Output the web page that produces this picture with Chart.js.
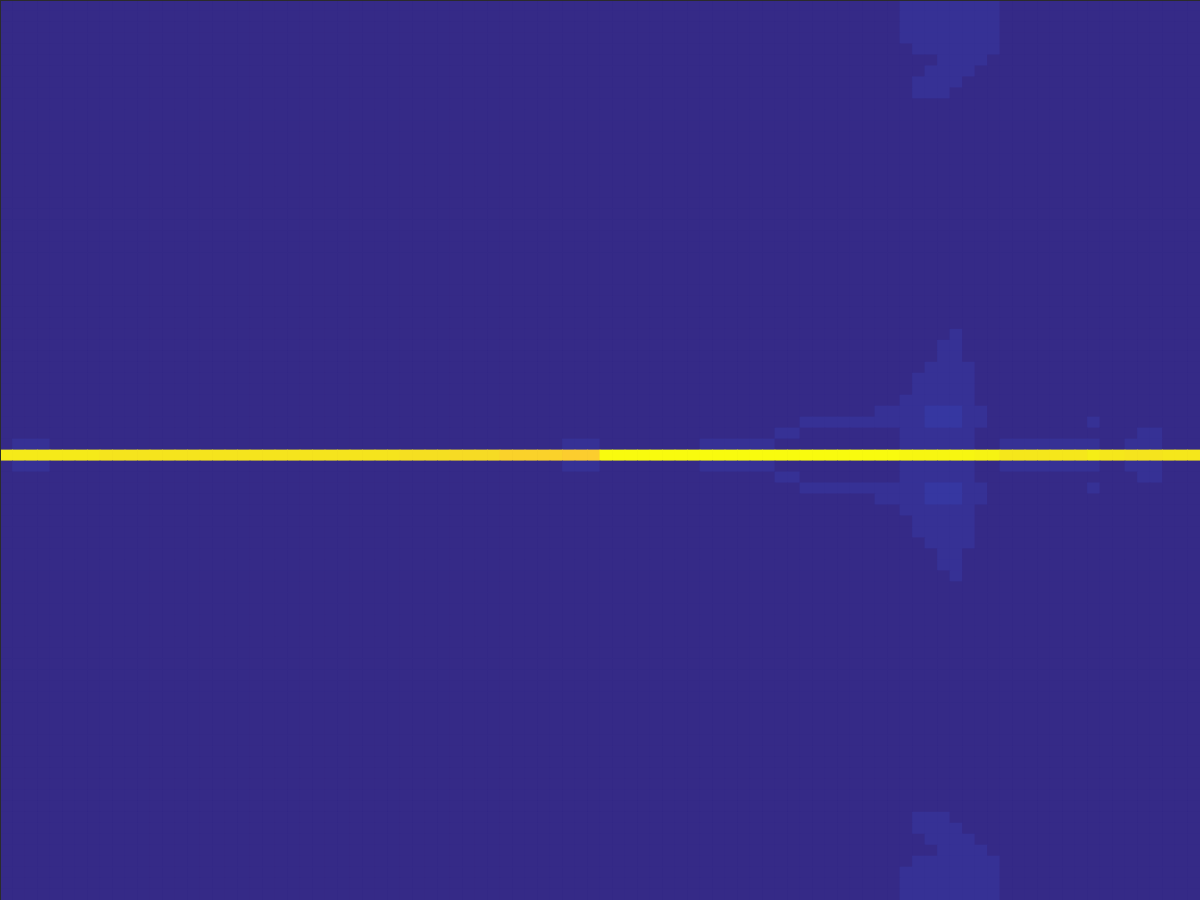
<!DOCTYPE html>
<html>
<head>
<meta charset="utf-8">
<script src="https://cdn.jsdelivr.net/npm/chart.js@4.4.0/dist/chart.umd.min.js"></script>
<style>
html,body{margin:0;padding:0;background:#352a87;overflow:hidden}
#wrap{width:1200px;height:900px;position:relative}
</style>
</head>
<body>
<div id="wrap"><canvas id="c" width="1200" height="900"></canvas></div>
<script>
// ---- DATA ----
// column categories (96 columns)
const columnLabels = [
  0,1,2,3,4,5,6,7,8,9,10,11,12,13,14,15,16,17,18,19,20,21,22,23,
  24,25,26,27,28,29,30,31,32,33,34,35,36,37,38,39,40,41,42,43,44,45,46,47,
  48,49,50,51,52,53,54,55,56,57,58,59,60,61,62,63,64,65,66,67,68,69,70,71,
  72,73,74,75,76,77,78,79,80,81,82,83,84,85,86,87,88,89,90,91,92,93,94,95
];
// value levels: each character in the grid stands for one value (0..1 of the colour scale)
const levelCodes  = ['.',  'a',   'b',   'p',   'o',   'v',   'w',   'x',   'u',  'y',   't',   'z',   'Z',  'Y'];
const levelValues = [0.0, 0.018, 0.033, 0.888, 0.902, 0.928, 0.938, 0.951, 0.96, 0.966, 0.975, 0.985, 0.99, 1.0];
// 82 rows (top to bottom) x 96 columns, written in groups of 8 columns
const gridRows = [
"........ ........ ........ ........ ........ ........ ........ ........ ........ aaaaaaaa ........ ........",
"........ ........ ........ ........ ........ ........ ........ ........ ........ aaaaaaaa ........ ........",
"........ ........ ........ ........ ........ ........ ........ ........ ........ aaaaaaaa ........ ........",
"........ ........ ........ ........ ........ ........ ........ ........ ........ aaaaaaaa ........ ........",
"........ ........ ........ ........ ........ ........ ........ ........ ........ .aaaaaaa ........ ........",
"........ ........ ........ ........ ........ ........ ........ ........ ........ ...aaaa. ........ ........",
"........ ........ ........ ........ ........ ........ ........ ........ ........ ..aaaa.. ........ ........",
"........ ........ ........ ........ ........ ........ ........ ........ ........ .aaaa... ........ ........",
"........ ........ ........ ........ ........ ........ ........ ........ ........ .aaa.... ........ ........",
"........ ........ ........ ........ ........ ........ ........ ........ ........ ........ ........ ........",
"........ ........ ........ ........ ........ ........ ........ ........ ........ ........ ........ ........",
"........ ........ ........ ........ ........ ........ ........ ........ ........ ........ ........ ........",
"........ ........ ........ ........ ........ ........ ........ ........ ........ ........ ........ ........",
"........ ........ ........ ........ ........ ........ ........ ........ ........ ........ ........ ........",
"........ ........ ........ ........ ........ ........ ........ ........ ........ ........ ........ ........",
"........ ........ ........ ........ ........ ........ ........ ........ ........ ........ ........ ........",
"........ ........ ........ ........ ........ ........ ........ ........ ........ ........ ........ ........",
"........ ........ ........ ........ ........ ........ ........ ........ ........ ........ ........ ........",
"........ ........ ........ ........ ........ ........ ........ ........ ........ ........ ........ ........",
"........ ........ ........ ........ ........ ........ ........ ........ ........ ........ ........ ........",
"........ ........ ........ ........ ........ ........ ........ ........ ........ ........ ........ ........",
"........ ........ ........ ........ ........ ........ ........ ........ ........ ........ ........ ........",
"........ ........ ........ ........ ........ ........ ........ ........ ........ ........ ........ ........",
"........ ........ ........ ........ ........ ........ ........ ........ ........ ........ ........ ........",
"........ ........ ........ ........ ........ ........ ........ ........ ........ ........ ........ ........",
"........ ........ ........ ........ ........ ........ ........ ........ ........ ........ ........ ........",
"........ ........ ........ ........ ........ ........ ........ ........ ........ ........ ........ ........",
"........ ........ ........ ........ ........ ........ ........ ........ ........ ........ ........ ........",
"........ ........ ........ ........ ........ ........ ........ ........ ........ ........ ........ ........",
"........ ........ ........ ........ ........ ........ ........ ........ ........ ........ ........ ........",
"........ ........ ........ ........ ........ ........ ........ ........ ........ ....a... ........ ........",
"........ ........ ........ ........ ........ ........ ........ ........ ........ ...aa... ........ ........",
"........ ........ ........ ........ ........ ........ ........ ........ ........ ...aa... ........ ........",
"........ ........ ........ ........ ........ ........ ........ ........ ........ ..aaaa.. ........ ........",
"........ ........ ........ ........ ........ ........ ........ ........ ........ .aaaaa.. ........ ........",
"........ ........ ........ ........ ........ ........ ........ ........ ........ .aaaaa.. ........ ........",
"........ ........ ........ ........ ........ ........ ........ ........ ........ aaaaaa.. ........ ........",
"........ ........ ........ ........ ........ ........ ........ ........ ......aa aabbbaa. ........ ........",
"........ ........ ........ ........ ........ ........ ........ ........ aaaaaaaa aabbbaa. .......a ........",
"........ ........ ........ ........ ........ ........ ........ ......aa ........ aaaaaa.. ........ ...aa...",
".aaa.... ........ ........ ........ ........ .....aaa ........ aaaaaa.. ........ aaaaaa.. aaaaaaaa ..aaa...",
"yyyyyyyy xxxxxxxx xxxxxxxx xxxxxxxx wwwwvvvv oooooppp YYYYYYYY YYYYYYYY YYYYYYYY ZZZZZZzz uuuuuuut uuxxxuuu",
".aaa.... ........ ........ ........ ........ .....aaa ........ aaaaaa.. ........ aaaaaa.. aaaaaaaa ..aaa...",
"........ ........ ........ ........ ........ ........ ........ ......aa ........ aaaaaa.. ........ ...aa...",
"........ ........ ........ ........ ........ ........ ........ ........ aaaaaaaa aabbbaa. .......a ........",
"........ ........ ........ ........ ........ ........ ........ ........ ......aa aabbbaa. ........ ........",
"........ ........ ........ ........ ........ ........ ........ ........ ........ aaaaaa.. ........ ........",
"........ ........ ........ ........ ........ ........ ........ ........ ........ .aaaaa.. ........ ........",
"........ ........ ........ ........ ........ ........ ........ ........ ........ .aaaaa.. ........ ........",
"........ ........ ........ ........ ........ ........ ........ ........ ........ ..aaaa.. ........ ........",
"........ ........ ........ ........ ........ ........ ........ ........ ........ ...aa... ........ ........",
"........ ........ ........ ........ ........ ........ ........ ........ ........ ...aa... ........ ........",
"........ ........ ........ ........ ........ ........ ........ ........ ........ ....a... ........ ........",
"........ ........ ........ ........ ........ ........ ........ ........ ........ ........ ........ ........",
"........ ........ ........ ........ ........ ........ ........ ........ ........ ........ ........ ........",
"........ ........ ........ ........ ........ ........ ........ ........ ........ ........ ........ ........",
"........ ........ ........ ........ ........ ........ ........ ........ ........ ........ ........ ........",
"........ ........ ........ ........ ........ ........ ........ ........ ........ ........ ........ ........",
"........ ........ ........ ........ ........ ........ ........ ........ ........ ........ ........ ........",
"........ ........ ........ ........ ........ ........ ........ ........ ........ ........ ........ ........",
"........ ........ ........ ........ ........ ........ ........ ........ ........ ........ ........ ........",
"........ ........ ........ ........ ........ ........ ........ ........ ........ ........ ........ ........",
"........ ........ ........ ........ ........ ........ ........ ........ ........ ........ ........ ........",
"........ ........ ........ ........ ........ ........ ........ ........ ........ ........ ........ ........",
"........ ........ ........ ........ ........ ........ ........ ........ ........ ........ ........ ........",
"........ ........ ........ ........ ........ ........ ........ ........ ........ ........ ........ ........",
"........ ........ ........ ........ ........ ........ ........ ........ ........ ........ ........ ........",
"........ ........ ........ ........ ........ ........ ........ ........ ........ ........ ........ ........",
"........ ........ ........ ........ ........ ........ ........ ........ ........ ........ ........ ........",
"........ ........ ........ ........ ........ ........ ........ ........ ........ ........ ........ ........",
"........ ........ ........ ........ ........ ........ ........ ........ ........ ........ ........ ........",
"........ ........ ........ ........ ........ ........ ........ ........ ........ ........ ........ ........",
"........ ........ ........ ........ ........ ........ ........ ........ ........ ........ ........ ........",
"........ ........ ........ ........ ........ ........ ........ ........ ........ ........ ........ ........",
"........ ........ ........ ........ ........ ........ ........ ........ ........ .aaa.... ........ ........",
"........ ........ ........ ........ ........ ........ ........ ........ ........ .aaaa... ........ ........",
"........ ........ ........ ........ ........ ........ ........ ........ ........ ..aaaa.. ........ ........",
"........ ........ ........ ........ ........ ........ ........ ........ ........ ...aaaa. ........ ........",
"........ ........ ........ ........ ........ ........ ........ ........ ........ .aaaaaaa ........ ........",
"........ ........ ........ ........ ........ ........ ........ ........ ........ aaaaaaaa ........ ........",
"........ ........ ........ ........ ........ ........ ........ ........ ........ aaaaaaaa ........ ........",
"........ ........ ........ ........ ........ ........ ........ ........ ........ aaaaaaaa ........ ........"
];

// ---- STYLE: parula colour map (64 entries) ----
const parula = [
[0.2081,0.1663,0.5292],[0.2116,0.1898,0.5777],[0.2123,0.2138,0.6270],[0.2081,0.2386,0.6771],
[0.1959,0.2645,0.7279],[0.1707,0.2919,0.7792],[0.1253,0.3242,0.8303],[0.0591,0.3598,0.8683],
[0.0117,0.3875,0.8820],[0.0060,0.4086,0.8828],[0.0165,0.4266,0.8786],[0.0329,0.4430,0.8720],
[0.0498,0.4586,0.8641],[0.0629,0.4737,0.8554],[0.0723,0.4887,0.8467],[0.0779,0.5040,0.8384],
[0.0793,0.5200,0.8312],[0.0749,0.5375,0.8263],[0.0641,0.5570,0.8240],[0.0488,0.5772,0.8228],
[0.0343,0.5966,0.8199],[0.0265,0.6137,0.8135],[0.0239,0.6287,0.8038],[0.0231,0.6418,0.7913],
[0.0228,0.6535,0.7768],[0.0267,0.6642,0.7607],[0.0384,0.6743,0.7436],[0.0590,0.6838,0.7254],
[0.0843,0.6928,0.7062],[0.1133,0.7015,0.6859],[0.1453,0.7098,0.6646],[0.1801,0.7177,0.6424],
[0.2178,0.7250,0.6193],[0.2586,0.7317,0.5954],[0.3022,0.7376,0.5712],[0.3482,0.7424,0.5473],
[0.3953,0.7459,0.5244],[0.4420,0.7481,0.5033],[0.4871,0.7491,0.4840],[0.5300,0.7491,0.4661],
[0.5709,0.7485,0.4494],[0.6099,0.7473,0.4337],[0.6473,0.7456,0.4188],[0.6834,0.7435,0.4044],
[0.7184,0.7411,0.3905],[0.7525,0.7384,0.3768],[0.7858,0.7356,0.3633],[0.8185,0.7327,0.3498],
[0.8507,0.7299,0.3360],[0.8824,0.7274,0.3217],[0.9139,0.7258,0.3063],[0.9450,0.7261,0.2886],
[0.9739,0.7314,0.2666],[0.9938,0.7455,0.2403],[0.9990,0.7653,0.2164],[0.9955,0.7861,0.1967],
[0.9880,0.8066,0.1794],[0.9789,0.8271,0.1633],[0.9697,0.8481,0.1475],[0.9626,0.8705,0.1309],
[0.9589,0.8949,0.1132],[0.9598,0.9218,0.0948],[0.9661,0.9514,0.0755],[0.9763,0.9831,0.0538]
];
function colorFor(v){
  const t = Math.max(0, Math.min(1, v)) * (parula.length - 1);
  const i = Math.min(parula.length - 2, Math.floor(t));
  const f = t - i;
  const a = parula[i], b = parula[i + 1];
  const c = [0,1,2].map(k => Math.round((a[k] + (b[k] - a[k]) * f) * 255));
  return 'rgb(' + c[0] + ',' + c[1] + ',' + c[2] + ')';
}
const codeToValue = {};
levelCodes.forEach((c, i) => { codeToValue[c] = levelValues[i]; });

const nRows = gridRows.length;
const datasets = [];
// bottom row first so that the first grid row ends on top of the stack
for (let r = nRows - 1; r >= 0; r--) {
  const cells = gridRows[r].replace(/ /g, '').split('');
  const vals = cells.map(ch => codeToValue[ch]);
  datasets.push({
    label: 'row ' + r,
    data: vals.map(() => 1),
    cellValues: vals,
    backgroundColor: vals.map(colorFor),
    borderWidth: 0,
    barPercentage: 1.0,
    categoryPercentage: 1.0,
    inflateAmount: 0.4
  });
}

const framePlugin = {
  id: 'frame',
  afterDraw(chart) {
    const ctx = chart.ctx, a = chart.chartArea;
    ctx.save();
    ctx.fillStyle = '#2b2b2b';
    ctx.fillRect(a.left, a.top, a.right - a.left, 1);
    ctx.fillRect(a.left, a.top, 1, a.bottom - a.top);
    ctx.restore();
  }
};

new Chart(document.getElementById('c'), {
  type: 'bar',
  data: { labels: columnLabels, datasets: datasets },
  options: {
    responsive: false,
    devicePixelRatio: 1,
    animation: false,
    layout: { padding: 0 },
    plugins: { legend: { display: false }, tooltip: { enabled: false } },
    scales: {
      x: { stacked: true, display: false, offset: true },
      y: { stacked: true, display: false, min: 0, max: nRows }
    }
  },
  plugins: [framePlugin]
});
</script>
</body>
</html>
